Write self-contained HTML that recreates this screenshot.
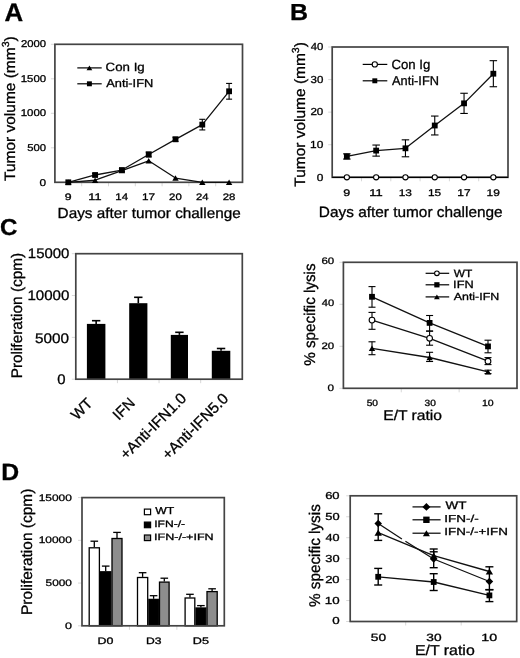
<!DOCTYPE html>
<html><head><meta charset="utf-8"><style>
html,body{margin:0;padding:0;background:#fff;}
svg{display:block;will-change:transform;}
</style></head><body>
<svg width="520" height="658" viewBox="0 0 520 658" text-rendering="geometricPrecision">
<rect width="520" height="658" fill="#fff"/>
<text x="4.45" y="21.25" font-size="25.31" textLength="18.65" lengthAdjust="spacingAndGlyphs" font-family="&apos;Liberation Sans&apos;, sans-serif" stroke="#000" stroke-width="0.3" font-weight="bold" fill="#000">A</text>
<line x1="50.90" y1="147.80" x2="54.90" y2="147.80" stroke="#d8d8d8" stroke-width="1"/>
<line x1="50.90" y1="113.30" x2="54.90" y2="113.30" stroke="#d8d8d8" stroke-width="1"/>
<line x1="50.90" y1="78.80" x2="54.90" y2="78.80" stroke="#d8d8d8" stroke-width="1"/>
<line x1="50.90" y1="44.30" x2="54.90" y2="44.30" stroke="#d8d8d8" stroke-width="1"/>
<line x1="81.70" y1="182.30" x2="81.70" y2="186.30" stroke="#d8d8d8" stroke-width="1"/>
<line x1="108.50" y1="182.30" x2="108.50" y2="186.30" stroke="#d8d8d8" stroke-width="1"/>
<line x1="135.30" y1="182.30" x2="135.30" y2="186.30" stroke="#d8d8d8" stroke-width="1"/>
<line x1="162.10" y1="182.30" x2="162.10" y2="186.30" stroke="#d8d8d8" stroke-width="1"/>
<line x1="188.90" y1="182.30" x2="188.90" y2="186.30" stroke="#d8d8d8" stroke-width="1"/>
<line x1="215.70" y1="182.30" x2="215.70" y2="186.30" stroke="#d8d8d8" stroke-width="1"/>
<rect x="54.90" y="44.30" width="187.60" height="138.00" fill="none" stroke="#444" stroke-width="1.7"/>
<text x="21.04" y="46.90" font-size="9.89" textLength="25.11" lengthAdjust="spacingAndGlyphs" font-family="&apos;Liberation Sans&apos;, sans-serif" stroke="#000" stroke-width="0.3" fill="#000">2000</text>
<text x="20.74" y="81.55" font-size="9.89" textLength="25.41" lengthAdjust="spacingAndGlyphs" font-family="&apos;Liberation Sans&apos;, sans-serif" stroke="#000" stroke-width="0.3" fill="#000">1500</text>
<text x="20.74" y="116.20" font-size="9.89" textLength="25.41" lengthAdjust="spacingAndGlyphs" font-family="&apos;Liberation Sans&apos;, sans-serif" stroke="#000" stroke-width="0.3" fill="#000">1000</text>
<text x="27.30" y="150.85" font-size="9.89" textLength="18.84" lengthAdjust="spacingAndGlyphs" font-family="&apos;Liberation Sans&apos;, sans-serif" stroke="#000" stroke-width="0.3" fill="#000">500</text>
<text x="39.58" y="185.50" font-size="9.89" textLength="6.58" lengthAdjust="spacingAndGlyphs" font-family="&apos;Liberation Sans&apos;, sans-serif" stroke="#000" stroke-width="0.3" fill="#000">0</text>
<text x="64.86" y="200.40" font-size="9.32" textLength="6.85" lengthAdjust="spacingAndGlyphs" font-family="&apos;Liberation Sans&apos;, sans-serif" stroke="#000" stroke-width="0.3" fill="#000">9</text>
<text x="88.35" y="200.40" font-size="9.45" textLength="13.16" lengthAdjust="spacingAndGlyphs" font-family="&apos;Liberation Sans&apos;, sans-serif" stroke="#000" stroke-width="0.3" fill="#000">11</text>
<text x="115.24" y="200.40" font-size="9.45" textLength="12.81" lengthAdjust="spacingAndGlyphs" font-family="&apos;Liberation Sans&apos;, sans-serif" stroke="#000" stroke-width="0.3" fill="#000">14</text>
<text x="142.02" y="200.40" font-size="9.45" textLength="13.10" lengthAdjust="spacingAndGlyphs" font-family="&apos;Liberation Sans&apos;, sans-serif" stroke="#000" stroke-width="0.3" fill="#000">17</text>
<text x="169.13" y="200.40" font-size="9.32" textLength="12.62" lengthAdjust="spacingAndGlyphs" font-family="&apos;Liberation Sans&apos;, sans-serif" stroke="#000" stroke-width="0.3" fill="#000">20</text>
<text x="195.94" y="200.40" font-size="9.32" textLength="12.50" lengthAdjust="spacingAndGlyphs" font-family="&apos;Liberation Sans&apos;, sans-serif" stroke="#000" stroke-width="0.3" fill="#000">24</text>
<text x="222.73" y="200.40" font-size="9.32" textLength="12.68" lengthAdjust="spacingAndGlyphs" font-family="&apos;Liberation Sans&apos;, sans-serif" stroke="#000" stroke-width="0.3" fill="#000">28</text>
<text x="57.64" y="218.30" font-size="14.62" textLength="183.12" lengthAdjust="spacingAndGlyphs" font-family="&apos;Liberation Sans&apos;, sans-serif" stroke="#000" stroke-width="0.3" fill="#000">Days after tumor challenge</text>
<text transform="translate(14.60,180.95) rotate(-90)" x="0" y="0" font-size="15.03" textLength="144.62" lengthAdjust="spacingAndGlyphs" font-family="&apos;Liberation Sans&apos;, sans-serif" stroke="#000" stroke-width="0.3" fill="#000">Tumor volume (mm<tspan font-size="10.22" dy="-5.41">3</tspan><tspan dy="5.41">)</tspan></text>
<polyline points="68.30,182.30 95.10,180.23 121.90,170.57 148.70,160.77 175.50,178.02 202.30,182.30 229.10,182.30" fill="none" stroke="#111" stroke-width="1.3" stroke-linejoin="round"/>
<polyline points="68.30,182.30 95.10,174.99 121.90,170.02 148.70,154.49 175.50,139.31 202.30,124.62 229.10,91.29" fill="none" stroke="#111" stroke-width="1.3" stroke-linejoin="round"/>
<line x1="95.10" y1="173.61" x2="95.10" y2="176.37" stroke="#000" stroke-width="1.1"/>
<line x1="92.10" y1="173.61" x2="98.10" y2="173.61" stroke="#000" stroke-width="1.1"/>
<line x1="92.10" y1="176.37" x2="98.10" y2="176.37" stroke="#000" stroke-width="1.1"/>
<line x1="121.90" y1="168.64" x2="121.90" y2="171.40" stroke="#000" stroke-width="1.1"/>
<line x1="118.90" y1="168.64" x2="124.90" y2="168.64" stroke="#000" stroke-width="1.1"/>
<line x1="118.90" y1="171.40" x2="124.90" y2="171.40" stroke="#000" stroke-width="1.1"/>
<line x1="148.70" y1="152.08" x2="148.70" y2="156.91" stroke="#000" stroke-width="1.1"/>
<line x1="145.70" y1="152.08" x2="151.70" y2="152.08" stroke="#000" stroke-width="1.1"/>
<line x1="145.70" y1="156.91" x2="151.70" y2="156.91" stroke="#000" stroke-width="1.1"/>
<line x1="175.50" y1="137.24" x2="175.50" y2="141.38" stroke="#000" stroke-width="1.1"/>
<line x1="172.50" y1="137.24" x2="178.50" y2="137.24" stroke="#000" stroke-width="1.1"/>
<line x1="172.50" y1="141.38" x2="178.50" y2="141.38" stroke="#000" stroke-width="1.1"/>
<line x1="202.30" y1="119.30" x2="202.30" y2="129.93" stroke="#000" stroke-width="1.1"/>
<line x1="199.30" y1="119.30" x2="205.30" y2="119.30" stroke="#000" stroke-width="1.1"/>
<line x1="199.30" y1="129.93" x2="205.30" y2="129.93" stroke="#000" stroke-width="1.1"/>
<line x1="229.10" y1="83.42" x2="229.10" y2="99.16" stroke="#000" stroke-width="1.1"/>
<line x1="226.10" y1="83.42" x2="232.10" y2="83.42" stroke="#000" stroke-width="1.1"/>
<line x1="226.10" y1="99.16" x2="232.10" y2="99.16" stroke="#000" stroke-width="1.1"/>
<polygon points="65.10,185.00 71.50,185.00 68.30,179.60" fill="#000"/>
<polygon points="91.90,182.93 98.30,182.93 95.10,177.53" fill="#000"/>
<polygon points="118.70,173.27 125.10,173.27 121.90,167.87" fill="#000"/>
<polygon points="145.50,163.47 151.90,163.47 148.70,158.07" fill="#000"/>
<polygon points="172.30,180.72 178.70,180.72 175.50,175.32" fill="#000"/>
<polygon points="199.10,185.00 205.50,185.00 202.30,179.60" fill="#000"/>
<polygon points="225.90,185.00 232.30,185.00 229.10,179.60" fill="#000"/>
<rect x="65.40" y="179.40" width="5.80" height="5.80" fill="#000"/>
<rect x="92.20" y="172.09" width="5.80" height="5.80" fill="#000"/>
<rect x="119.00" y="167.12" width="5.80" height="5.80" fill="#000"/>
<rect x="145.80" y="151.59" width="5.80" height="5.80" fill="#000"/>
<rect x="172.60" y="136.41" width="5.80" height="5.80" fill="#000"/>
<rect x="199.40" y="121.72" width="5.80" height="5.80" fill="#000"/>
<rect x="226.20" y="88.39" width="5.80" height="5.80" fill="#000"/>
<line x1="77.30" y1="67.90" x2="101.70" y2="67.90" stroke="#000" stroke-width="1.2"/>
<polygon points="86.52,70.33 92.28,70.33 89.40,65.47" fill="#000"/>
<line x1="77.30" y1="83.80" x2="101.70" y2="83.80" stroke="#000" stroke-width="1.2"/>
<rect x="86.94" y="81.33" width="4.93" height="4.93" fill="#000"/>
<text x="105.64" y="70.90" font-size="11.90" textLength="39.11" lengthAdjust="spacingAndGlyphs" font-family="&apos;Liberation Sans&apos;, sans-serif" stroke="#000" stroke-width="0.3" fill="#000">Con Ig</text>
<text x="106.27" y="86.90" font-size="11.31" textLength="46.98" lengthAdjust="spacingAndGlyphs" font-family="&apos;Liberation Sans&apos;, sans-serif" stroke="#000" stroke-width="0.3" fill="#000">Anti-IFN</text>
<text x="290.12" y="20.20" font-size="23.13" textLength="18.00" lengthAdjust="spacingAndGlyphs" font-family="&apos;Liberation Sans&apos;, sans-serif" stroke="#000" stroke-width="0.3" font-weight="bold" fill="#000">B</text>
<line x1="328.20" y1="144.73" x2="332.20" y2="144.73" stroke="#d8d8d8" stroke-width="1"/>
<line x1="328.20" y1="112.15" x2="332.20" y2="112.15" stroke="#d8d8d8" stroke-width="1"/>
<line x1="328.20" y1="79.58" x2="332.20" y2="79.58" stroke="#d8d8d8" stroke-width="1"/>
<line x1="328.20" y1="47.00" x2="332.20" y2="47.00" stroke="#d8d8d8" stroke-width="1"/>
<line x1="361.50" y1="177.30" x2="361.50" y2="181.30" stroke="#d8d8d8" stroke-width="1"/>
<line x1="390.80" y1="177.30" x2="390.80" y2="181.30" stroke="#d8d8d8" stroke-width="1"/>
<line x1="420.10" y1="177.30" x2="420.10" y2="181.30" stroke="#d8d8d8" stroke-width="1"/>
<line x1="449.40" y1="177.30" x2="449.40" y2="181.30" stroke="#d8d8d8" stroke-width="1"/>
<line x1="478.70" y1="177.30" x2="478.70" y2="181.30" stroke="#d8d8d8" stroke-width="1"/>
<rect x="332.20" y="47.00" width="175.80" height="130.30" fill="none" stroke="#444" stroke-width="1.7"/>
<text x="310.75" y="49.80" font-size="10.18" textLength="12.61" lengthAdjust="spacingAndGlyphs" font-family="&apos;Liberation Sans&apos;, sans-serif" stroke="#000" stroke-width="0.3" fill="#000">40</text>
<text x="310.57" y="82.50" font-size="10.18" textLength="12.79" lengthAdjust="spacingAndGlyphs" font-family="&apos;Liberation Sans&apos;, sans-serif" stroke="#000" stroke-width="0.3" fill="#000">30</text>
<text x="310.42" y="115.20" font-size="10.18" textLength="12.95" lengthAdjust="spacingAndGlyphs" font-family="&apos;Liberation Sans&apos;, sans-serif" stroke="#000" stroke-width="0.3" fill="#000">20</text>
<text x="310.11" y="147.90" font-size="10.18" textLength="13.27" lengthAdjust="spacingAndGlyphs" font-family="&apos;Liberation Sans&apos;, sans-serif" stroke="#000" stroke-width="0.3" fill="#000">10</text>
<text x="316.72" y="180.60" font-size="10.18" textLength="6.64" lengthAdjust="spacingAndGlyphs" font-family="&apos;Liberation Sans&apos;, sans-serif" stroke="#000" stroke-width="0.3" fill="#000">0</text>
<text x="343.35" y="196.20" font-size="9.61" textLength="6.97" lengthAdjust="spacingAndGlyphs" font-family="&apos;Liberation Sans&apos;, sans-serif" stroke="#000" stroke-width="0.3" fill="#000">9</text>
<text x="369.28" y="196.20" font-size="9.75" textLength="13.39" lengthAdjust="spacingAndGlyphs" font-family="&apos;Liberation Sans&apos;, sans-serif" stroke="#000" stroke-width="0.3" fill="#000">11</text>
<text x="398.66" y="196.20" font-size="9.61" textLength="13.22" lengthAdjust="spacingAndGlyphs" font-family="&apos;Liberation Sans&apos;, sans-serif" stroke="#000" stroke-width="0.3" fill="#000">13</text>
<text x="427.96" y="196.20" font-size="9.75" textLength="13.19" lengthAdjust="spacingAndGlyphs" font-family="&apos;Liberation Sans&apos;, sans-serif" stroke="#000" stroke-width="0.3" fill="#000">15</text>
<text x="457.25" y="196.20" font-size="9.75" textLength="13.33" lengthAdjust="spacingAndGlyphs" font-family="&apos;Liberation Sans&apos;, sans-serif" stroke="#000" stroke-width="0.3" fill="#000">17</text>
<text x="486.56" y="196.20" font-size="9.61" textLength="13.26" lengthAdjust="spacingAndGlyphs" font-family="&apos;Liberation Sans&apos;, sans-serif" stroke="#000" stroke-width="0.3" fill="#000">19</text>
<text x="318.83" y="216.90" font-size="14.90" textLength="183.83" lengthAdjust="spacingAndGlyphs" font-family="&apos;Liberation Sans&apos;, sans-serif" stroke="#000" stroke-width="0.3" fill="#000">Days after tumor challenge</text>
<text transform="translate(304.90,186.75) rotate(-90)" x="0" y="0" font-size="15.03" textLength="144.62" lengthAdjust="spacingAndGlyphs" font-family="&apos;Liberation Sans&apos;, sans-serif" stroke="#000" stroke-width="0.3" fill="#000">Tumor volume (mm<tspan font-size="10.22" dy="-5.41">3</tspan><tspan dy="5.41">)</tspan></text>
<polyline points="346.85,156.45 376.15,150.59 405.45,148.31 434.75,125.51 464.05,103.35 493.35,73.71" fill="none" stroke="#111" stroke-width="1.3" stroke-linejoin="round"/>
<line x1="332.20" y1="177.30" x2="508.00" y2="177.30" stroke="#000" stroke-width="1.2"/>
<line x1="346.85" y1="153.85" x2="346.85" y2="159.06" stroke="#000" stroke-width="1.1"/>
<line x1="343.10" y1="153.85" x2="350.60" y2="153.85" stroke="#000" stroke-width="1.1"/>
<line x1="343.10" y1="159.06" x2="350.60" y2="159.06" stroke="#000" stroke-width="1.1"/>
<line x1="376.15" y1="145.05" x2="376.15" y2="156.13" stroke="#000" stroke-width="1.1"/>
<line x1="372.40" y1="145.05" x2="379.90" y2="145.05" stroke="#000" stroke-width="1.1"/>
<line x1="372.40" y1="156.13" x2="379.90" y2="156.13" stroke="#000" stroke-width="1.1"/>
<line x1="405.45" y1="139.84" x2="405.45" y2="156.78" stroke="#000" stroke-width="1.1"/>
<line x1="401.70" y1="139.84" x2="409.20" y2="139.84" stroke="#000" stroke-width="1.1"/>
<line x1="401.70" y1="156.78" x2="409.20" y2="156.78" stroke="#000" stroke-width="1.1"/>
<line x1="434.75" y1="116.06" x2="434.75" y2="134.95" stroke="#000" stroke-width="1.1"/>
<line x1="431.00" y1="116.06" x2="438.50" y2="116.06" stroke="#000" stroke-width="1.1"/>
<line x1="431.00" y1="134.95" x2="438.50" y2="134.95" stroke="#000" stroke-width="1.1"/>
<line x1="464.05" y1="93.26" x2="464.05" y2="113.45" stroke="#000" stroke-width="1.1"/>
<line x1="460.30" y1="93.26" x2="467.80" y2="93.26" stroke="#000" stroke-width="1.1"/>
<line x1="460.30" y1="113.45" x2="467.80" y2="113.45" stroke="#000" stroke-width="1.1"/>
<line x1="493.35" y1="60.68" x2="493.35" y2="86.74" stroke="#000" stroke-width="1.1"/>
<line x1="489.60" y1="60.68" x2="497.10" y2="60.68" stroke="#000" stroke-width="1.1"/>
<line x1="489.60" y1="86.74" x2="497.10" y2="86.74" stroke="#000" stroke-width="1.1"/>
<circle cx="346.85" cy="177.30" r="2.60" fill="#fff" stroke="#000" stroke-width="1.1"/>
<circle cx="376.15" cy="177.30" r="2.60" fill="#fff" stroke="#000" stroke-width="1.1"/>
<circle cx="405.45" cy="177.30" r="2.60" fill="#fff" stroke="#000" stroke-width="1.1"/>
<circle cx="434.75" cy="177.30" r="2.60" fill="#fff" stroke="#000" stroke-width="1.1"/>
<circle cx="464.05" cy="177.30" r="2.60" fill="#fff" stroke="#000" stroke-width="1.1"/>
<circle cx="493.35" cy="177.30" r="2.60" fill="#fff" stroke="#000" stroke-width="1.1"/>
<rect x="343.95" y="153.55" width="5.80" height="5.80" fill="#000"/>
<rect x="373.25" y="147.69" width="5.80" height="5.80" fill="#000"/>
<rect x="402.55" y="145.41" width="5.80" height="5.80" fill="#000"/>
<rect x="431.85" y="122.61" width="5.80" height="5.80" fill="#000"/>
<rect x="461.15" y="100.45" width="5.80" height="5.80" fill="#000"/>
<rect x="490.45" y="70.81" width="5.80" height="5.80" fill="#000"/>
<line x1="362.70" y1="64.40" x2="387.30" y2="64.40" stroke="#000" stroke-width="1.2"/>
<circle cx="374.80" cy="64.40" r="2.60" fill="#fff" stroke="#000" stroke-width="1.1"/>
<line x1="362.70" y1="80.80" x2="387.30" y2="80.80" stroke="#000" stroke-width="1.2"/>
<rect x="372.34" y="78.33" width="4.93" height="4.93" fill="#000"/>
<text x="391.44" y="68.60" font-size="13.33" textLength="38.90" lengthAdjust="spacingAndGlyphs" font-family="&apos;Liberation Sans&apos;, sans-serif" stroke="#000" stroke-width="0.3" fill="#000">Con Ig</text>
<text x="392.07" y="84.80" font-size="12.83" textLength="46.88" lengthAdjust="spacingAndGlyphs" font-family="&apos;Liberation Sans&apos;, sans-serif" stroke="#000" stroke-width="0.3" fill="#000">Anti-IFN</text>
<text x="0.14" y="235.40" font-size="22.94" textLength="17.42" lengthAdjust="spacingAndGlyphs" font-family="&apos;Liberation Sans&apos;, sans-serif" stroke="#000" stroke-width="0.3" font-weight="bold" fill="#000">C</text>
<line x1="71.80" y1="253.70" x2="75.80" y2="253.70" stroke="#d8d8d8" stroke-width="1"/>
<line x1="71.80" y1="295.53" x2="75.80" y2="295.53" stroke="#d8d8d8" stroke-width="1"/>
<line x1="71.80" y1="337.37" x2="75.80" y2="337.37" stroke="#d8d8d8" stroke-width="1"/>
<line x1="71.80" y1="379.20" x2="75.80" y2="379.20" stroke="#d8d8d8" stroke-width="1"/>
<line x1="117.42" y1="379.20" x2="117.42" y2="383.20" stroke="#d8d8d8" stroke-width="1"/>
<line x1="159.05" y1="379.20" x2="159.05" y2="383.20" stroke="#d8d8d8" stroke-width="1"/>
<line x1="200.68" y1="379.20" x2="200.68" y2="383.20" stroke="#d8d8d8" stroke-width="1"/>
<text x="27.88" y="258.40" font-size="13.91" textLength="41.49" lengthAdjust="spacingAndGlyphs" font-family="&apos;Liberation Sans&apos;, sans-serif" stroke="#000" stroke-width="0.3" fill="#000">15000</text>
<text x="27.47" y="300.40" font-size="13.91" textLength="41.91" lengthAdjust="spacingAndGlyphs" font-family="&apos;Liberation Sans&apos;, sans-serif" stroke="#000" stroke-width="0.3" fill="#000">10000</text>
<text x="34.99" y="342.80" font-size="13.91" textLength="34.02" lengthAdjust="spacingAndGlyphs" font-family="&apos;Liberation Sans&apos;, sans-serif" stroke="#000" stroke-width="0.3" fill="#000">5000</text>
<text x="57.21" y="384.10" font-size="13.91" textLength="8.27" lengthAdjust="spacingAndGlyphs" font-family="&apos;Liberation Sans&apos;, sans-serif" stroke="#000" stroke-width="0.3" fill="#000">0</text>
<rect x="86.90" y="323.90" width="18.50" height="55.30" fill="#000"/>
<line x1="96.15" y1="320.70" x2="96.15" y2="323.90" stroke="#000" stroke-width="1.6"/>
<line x1="91.95" y1="320.70" x2="100.35" y2="320.70" stroke="#000" stroke-width="1.6"/>
<rect x="129.20" y="303.20" width="18.20" height="76.00" fill="#000"/>
<line x1="138.30" y1="297.30" x2="138.30" y2="303.20" stroke="#000" stroke-width="1.6"/>
<line x1="134.10" y1="297.30" x2="142.50" y2="297.30" stroke="#000" stroke-width="1.6"/>
<rect x="170.80" y="334.90" width="17.20" height="44.30" fill="#000"/>
<line x1="179.40" y1="332.30" x2="179.40" y2="334.90" stroke="#000" stroke-width="1.6"/>
<line x1="175.20" y1="332.30" x2="183.60" y2="332.30" stroke="#000" stroke-width="1.6"/>
<rect x="211.80" y="350.80" width="18.50" height="28.40" fill="#000"/>
<line x1="221.05" y1="348.50" x2="221.05" y2="350.80" stroke="#000" stroke-width="1.6"/>
<line x1="216.85" y1="348.50" x2="225.25" y2="348.50" stroke="#000" stroke-width="1.6"/>
<rect x="75.80" y="253.70" width="166.50" height="125.50" fill="none" stroke="#444" stroke-width="1.7"/>
<text transform="translate(22.00,378.37) rotate(-90)" x="0" y="0" font-size="15.30" textLength="125.55" lengthAdjust="spacingAndGlyphs" font-family="&apos;Liberation Sans&apos;, sans-serif" stroke="#000" stroke-width="0.3" fill="#000">Proliferation (cpm)</text>
<text transform="translate(93.40,404.20) rotate(-45)" x="0" y="0" font-size="15.00" text-anchor="end" textLength="23.32" lengthAdjust="spacingAndGlyphs" font-family="&apos;Liberation Sans&apos;, sans-serif" stroke="#000" stroke-width="0.3" fill="#000">WT</text>
<text transform="translate(135.90,403.90) rotate(-45)" x="0" y="0" font-size="15.00" text-anchor="end" textLength="24.16" lengthAdjust="spacingAndGlyphs" font-family="&apos;Liberation Sans&apos;, sans-serif" stroke="#000" stroke-width="0.3" fill="#000">IFN</text>
<text transform="translate(187.30,399.30) rotate(-45)" x="0" y="0" font-size="15.30" text-anchor="end" textLength="86.31" lengthAdjust="spacingAndGlyphs" font-family="&apos;Liberation Sans&apos;, sans-serif" stroke="#000" stroke-width="0.3" fill="#000">+Anti-IFN1.0</text>
<text transform="translate(229.30,399.50) rotate(-45)" x="0" y="0" font-size="15.30" text-anchor="end" textLength="86.31" lengthAdjust="spacingAndGlyphs" font-family="&apos;Liberation Sans&apos;, sans-serif" stroke="#000" stroke-width="0.3" fill="#000">+Anti-IFN5.0</text>
<line x1="339.40" y1="262.30" x2="343.40" y2="262.30" stroke="#d8d8d8" stroke-width="1"/>
<line x1="339.40" y1="304.30" x2="343.40" y2="304.30" stroke="#d8d8d8" stroke-width="1"/>
<line x1="339.40" y1="346.30" x2="343.40" y2="346.30" stroke="#d8d8d8" stroke-width="1"/>
<line x1="339.40" y1="388.30" x2="343.40" y2="388.30" stroke="#d8d8d8" stroke-width="1"/>
<line x1="401.27" y1="388.30" x2="401.27" y2="392.30" stroke="#d8d8d8" stroke-width="1"/>
<line x1="459.13" y1="388.30" x2="459.13" y2="392.30" stroke="#d8d8d8" stroke-width="1"/>
<rect x="343.40" y="262.30" width="173.60" height="126.00" fill="none" stroke="#444" stroke-width="1.7"/>
<text x="321.43" y="263.85" font-size="9.46" textLength="12.73" lengthAdjust="spacingAndGlyphs" font-family="&apos;Liberation Sans&apos;, sans-serif" stroke="#000" stroke-width="0.3" fill="#000">60</text>
<text x="321.75" y="306.25" font-size="9.46" textLength="12.39" lengthAdjust="spacingAndGlyphs" font-family="&apos;Liberation Sans&apos;, sans-serif" stroke="#000" stroke-width="0.3" fill="#000">40</text>
<text x="321.43" y="348.65" font-size="9.46" textLength="12.73" lengthAdjust="spacingAndGlyphs" font-family="&apos;Liberation Sans&apos;, sans-serif" stroke="#000" stroke-width="0.3" fill="#000">20</text>
<text x="327.63" y="391.05" font-size="9.46" textLength="6.52" lengthAdjust="spacingAndGlyphs" font-family="&apos;Liberation Sans&apos;, sans-serif" stroke="#000" stroke-width="0.3" fill="#000">0</text>
<text x="366.68" y="406.30" font-size="9.03" textLength="11.31" lengthAdjust="spacingAndGlyphs" font-family="&apos;Liberation Sans&apos;, sans-serif" stroke="#000" stroke-width="0.3" fill="#000">50</text>
<text x="424.57" y="406.30" font-size="9.03" textLength="11.28" lengthAdjust="spacingAndGlyphs" font-family="&apos;Liberation Sans&apos;, sans-serif" stroke="#000" stroke-width="0.3" fill="#000">30</text>
<text x="482.03" y="406.30" font-size="9.03" textLength="11.71" lengthAdjust="spacingAndGlyphs" font-family="&apos;Liberation Sans&apos;, sans-serif" stroke="#000" stroke-width="0.3" fill="#000">10</text>
<text x="383.21" y="420.10" font-size="14.07" textLength="58.83" lengthAdjust="spacingAndGlyphs" font-family="&apos;Liberation Sans&apos;, sans-serif" stroke="#000" stroke-width="0.3" fill="#000">E/T ratio</text>
<text transform="translate(315.30,365.83) rotate(-90)" x="0" y="0" font-size="15.50" textLength="102.45" lengthAdjust="spacingAndGlyphs" font-family="&apos;Liberation Sans&apos;, sans-serif" stroke="#000" stroke-width="0.3" fill="#000">% specific lysis</text>
<polyline points="372.00,296.80 429.60,322.90 488.00,346.40" fill="none" stroke="#111" stroke-width="1.3" stroke-linejoin="round"/>
<polyline points="372.00,320.10 429.60,338.30 488.00,361.20" fill="none" stroke="#111" stroke-width="1.3" stroke-linejoin="round"/>
<polyline points="372.00,348.30 429.60,357.50 488.00,371.90" fill="none" stroke="#111" stroke-width="1.3" stroke-linejoin="round"/>
<line x1="372.00" y1="286.60" x2="372.00" y2="307.20" stroke="#000" stroke-width="1.1"/>
<line x1="368.50" y1="286.60" x2="375.50" y2="286.60" stroke="#000" stroke-width="1.1"/>
<line x1="368.50" y1="307.20" x2="375.50" y2="307.20" stroke="#000" stroke-width="1.1"/>
<line x1="429.60" y1="315.50" x2="429.60" y2="331.00" stroke="#000" stroke-width="1.1"/>
<line x1="426.10" y1="315.50" x2="433.10" y2="315.50" stroke="#000" stroke-width="1.1"/>
<line x1="426.10" y1="331.00" x2="433.10" y2="331.00" stroke="#000" stroke-width="1.1"/>
<line x1="488.00" y1="340.20" x2="488.00" y2="352.80" stroke="#000" stroke-width="1.1"/>
<line x1="484.50" y1="340.20" x2="491.50" y2="340.20" stroke="#000" stroke-width="1.1"/>
<line x1="484.50" y1="352.80" x2="491.50" y2="352.80" stroke="#000" stroke-width="1.1"/>
<line x1="372.00" y1="312.40" x2="372.00" y2="329.30" stroke="#000" stroke-width="1.1"/>
<line x1="368.50" y1="312.40" x2="375.50" y2="312.40" stroke="#000" stroke-width="1.1"/>
<line x1="368.50" y1="329.30" x2="375.50" y2="329.30" stroke="#000" stroke-width="1.1"/>
<line x1="429.60" y1="331.20" x2="429.60" y2="345.20" stroke="#000" stroke-width="1.1"/>
<line x1="426.10" y1="331.20" x2="433.10" y2="331.20" stroke="#000" stroke-width="1.1"/>
<line x1="426.10" y1="345.20" x2="433.10" y2="345.20" stroke="#000" stroke-width="1.1"/>
<line x1="488.00" y1="357.60" x2="488.00" y2="364.60" stroke="#000" stroke-width="1.1"/>
<line x1="484.50" y1="357.60" x2="491.50" y2="357.60" stroke="#000" stroke-width="1.1"/>
<line x1="484.50" y1="364.60" x2="491.50" y2="364.60" stroke="#000" stroke-width="1.1"/>
<line x1="372.00" y1="341.80" x2="372.00" y2="354.70" stroke="#000" stroke-width="1.1"/>
<line x1="368.50" y1="341.80" x2="375.50" y2="341.80" stroke="#000" stroke-width="1.1"/>
<line x1="368.50" y1="354.70" x2="375.50" y2="354.70" stroke="#000" stroke-width="1.1"/>
<line x1="429.60" y1="352.30" x2="429.60" y2="361.50" stroke="#000" stroke-width="1.1"/>
<line x1="426.10" y1="352.30" x2="433.10" y2="352.30" stroke="#000" stroke-width="1.1"/>
<line x1="426.10" y1="361.50" x2="433.10" y2="361.50" stroke="#000" stroke-width="1.1"/>
<line x1="488.00" y1="370.20" x2="488.00" y2="373.60" stroke="#000" stroke-width="1.1"/>
<line x1="484.50" y1="370.20" x2="491.50" y2="370.20" stroke="#000" stroke-width="1.1"/>
<line x1="484.50" y1="373.60" x2="491.50" y2="373.60" stroke="#000" stroke-width="1.1"/>
<rect x="369.10" y="293.90" width="5.80" height="5.80" fill="#000"/>
<rect x="426.70" y="320.00" width="5.80" height="5.80" fill="#000"/>
<rect x="485.10" y="343.50" width="5.80" height="5.80" fill="#000"/>
<circle cx="372.00" cy="320.10" r="2.86" fill="#fff" stroke="#000" stroke-width="1.1"/>
<circle cx="429.60" cy="338.30" r="2.86" fill="#fff" stroke="#000" stroke-width="1.1"/>
<circle cx="488.00" cy="361.20" r="2.86" fill="#fff" stroke="#000" stroke-width="1.1"/>
<polygon points="368.80,351.00 375.20,351.00 372.00,345.60" fill="#000"/>
<polygon points="426.40,360.20 432.80,360.20 429.60,354.80" fill="#000"/>
<polygon points="484.80,374.60 491.20,374.60 488.00,369.20" fill="#000"/>
<line x1="425.60" y1="273.30" x2="449.20" y2="273.30" stroke="#000" stroke-width="1.2"/>
<circle cx="436.90" cy="273.30" r="2.34" fill="#fff" stroke="#000" stroke-width="1.1"/>
<line x1="425.60" y1="284.80" x2="449.20" y2="284.80" stroke="#000" stroke-width="1.2"/>
<rect x="434.29" y="282.19" width="5.22" height="5.22" fill="#000"/>
<line x1="425.60" y1="296.90" x2="449.20" y2="296.90" stroke="#000" stroke-width="1.2"/>
<polygon points="434.02,299.33 439.78,299.33 436.90,294.47" fill="#000"/>
<text x="453.74" y="276.60" font-size="10.62" textLength="18.52" lengthAdjust="spacingAndGlyphs" font-family="&apos;Liberation Sans&apos;, sans-serif" stroke="#000" stroke-width="0.3" fill="#000">WT</text>
<text x="453.12" y="288.10" font-size="10.62" textLength="20.54" lengthAdjust="spacingAndGlyphs" font-family="&apos;Liberation Sans&apos;, sans-serif" stroke="#000" stroke-width="0.3" fill="#000">IFN</text>
<text x="453.77" y="300.40" font-size="10.21" textLength="45.45" lengthAdjust="spacingAndGlyphs" font-family="&apos;Liberation Sans&apos;, sans-serif" stroke="#000" stroke-width="0.3" fill="#000">Anti-IFN</text>
<text x="1.32" y="480.00" font-size="23.56" textLength="17.92" lengthAdjust="spacingAndGlyphs" font-family="&apos;Liberation Sans&apos;, sans-serif" stroke="#000" stroke-width="0.3" font-weight="bold" fill="#000">D</text>
<line x1="78.00" y1="497.60" x2="82.00" y2="497.60" stroke="#d8d8d8" stroke-width="1"/>
<line x1="78.00" y1="540.33" x2="82.00" y2="540.33" stroke="#d8d8d8" stroke-width="1"/>
<line x1="78.00" y1="583.07" x2="82.00" y2="583.07" stroke="#d8d8d8" stroke-width="1"/>
<line x1="78.00" y1="625.80" x2="82.00" y2="625.80" stroke="#d8d8d8" stroke-width="1"/>
<line x1="129.43" y1="625.80" x2="129.43" y2="629.80" stroke="#d8d8d8" stroke-width="1"/>
<line x1="176.87" y1="625.80" x2="176.87" y2="629.80" stroke="#d8d8d8" stroke-width="1"/>
<text x="38.76" y="500.55" font-size="9.46" textLength="33.10" lengthAdjust="spacingAndGlyphs" font-family="&apos;Liberation Sans&apos;, sans-serif" stroke="#000" stroke-width="0.3" fill="#000">15000</text>
<text x="38.76" y="543.30" font-size="9.46" textLength="33.10" lengthAdjust="spacingAndGlyphs" font-family="&apos;Liberation Sans&apos;, sans-serif" stroke="#000" stroke-width="0.3" fill="#000">10000</text>
<text x="45.63" y="586.05" font-size="9.46" textLength="26.24" lengthAdjust="spacingAndGlyphs" font-family="&apos;Liberation Sans&apos;, sans-serif" stroke="#000" stroke-width="0.3" fill="#000">5000</text>
<text x="64.95" y="628.80" font-size="9.46" textLength="6.93" lengthAdjust="spacingAndGlyphs" font-family="&apos;Liberation Sans&apos;, sans-serif" stroke="#000" stroke-width="0.3" fill="#000">0</text>
<line x1="94.30" y1="541.20" x2="94.30" y2="547.20" stroke="#000" stroke-width="1.3"/>
<line x1="90.50" y1="541.20" x2="98.10" y2="541.20" stroke="#000" stroke-width="1.3"/>
<rect x="89.20" y="547.80" width="10.20" height="78.00" fill="#fff" stroke="#000" stroke-width="1.3"/>
<line x1="105.70" y1="566.10" x2="105.70" y2="571.20" stroke="#000" stroke-width="1.3"/>
<line x1="101.90" y1="566.10" x2="109.50" y2="566.10" stroke="#000" stroke-width="1.3"/>
<rect x="100.60" y="571.80" width="10.20" height="54.00" fill="#000" stroke="#000" stroke-width="1.3"/>
<line x1="117.00" y1="532.40" x2="117.00" y2="537.90" stroke="#000" stroke-width="1.3"/>
<line x1="113.20" y1="532.40" x2="120.80" y2="532.40" stroke="#000" stroke-width="1.3"/>
<rect x="112.00" y="538.50" width="10.00" height="87.30" fill="#8d8d8d" stroke="#000" stroke-width="1.3"/>
<line x1="142.60" y1="572.70" x2="142.60" y2="576.90" stroke="#000" stroke-width="1.3"/>
<line x1="138.80" y1="572.70" x2="146.40" y2="572.70" stroke="#000" stroke-width="1.3"/>
<rect x="137.50" y="577.50" width="10.20" height="48.30" fill="#fff" stroke="#000" stroke-width="1.3"/>
<line x1="153.60" y1="595.70" x2="153.60" y2="598.80" stroke="#000" stroke-width="1.3"/>
<line x1="149.80" y1="595.70" x2="157.40" y2="595.70" stroke="#000" stroke-width="1.3"/>
<rect x="148.90" y="599.40" width="9.40" height="26.40" fill="#000" stroke="#000" stroke-width="1.3"/>
<line x1="164.30" y1="578.20" x2="164.30" y2="581.50" stroke="#000" stroke-width="1.3"/>
<line x1="160.50" y1="578.20" x2="168.10" y2="578.20" stroke="#000" stroke-width="1.3"/>
<rect x="159.50" y="582.10" width="9.60" height="43.70" fill="#8d8d8d" stroke="#000" stroke-width="1.3"/>
<line x1="189.95" y1="594.30" x2="189.95" y2="597.40" stroke="#000" stroke-width="1.3"/>
<line x1="186.15" y1="594.30" x2="193.75" y2="594.30" stroke="#000" stroke-width="1.3"/>
<rect x="185.10" y="598.00" width="9.70" height="27.80" fill="#fff" stroke="#000" stroke-width="1.3"/>
<line x1="200.90" y1="605.60" x2="200.90" y2="607.40" stroke="#000" stroke-width="1.3"/>
<line x1="197.10" y1="605.60" x2="204.70" y2="605.60" stroke="#000" stroke-width="1.3"/>
<rect x="196.00" y="608.00" width="9.80" height="17.80" fill="#000" stroke="#000" stroke-width="1.3"/>
<line x1="212.10" y1="588.80" x2="212.10" y2="591.00" stroke="#000" stroke-width="1.3"/>
<line x1="208.30" y1="588.80" x2="215.90" y2="588.80" stroke="#000" stroke-width="1.3"/>
<rect x="207.00" y="591.60" width="10.20" height="34.20" fill="#8d8d8d" stroke="#000" stroke-width="1.3"/>
<rect x="82.00" y="497.60" width="142.30" height="128.20" fill="none" stroke="#444" stroke-width="1.7"/>
<text transform="translate(31.60,614.98) rotate(-90)" x="0" y="0" font-size="15.30" textLength="126.27" lengthAdjust="spacingAndGlyphs" font-family="&apos;Liberation Sans&apos;, sans-serif" stroke="#000" stroke-width="0.3" fill="#000">Proliferation (cpm)</text>
<text x="97.57" y="643.80" font-size="9.32" textLength="15.90" lengthAdjust="spacingAndGlyphs" font-family="&apos;Liberation Sans&apos;, sans-serif" stroke="#000" stroke-width="0.3" fill="#000">D0</text>
<text x="146.00" y="643.80" font-size="9.32" textLength="15.53" lengthAdjust="spacingAndGlyphs" font-family="&apos;Liberation Sans&apos;, sans-serif" stroke="#000" stroke-width="0.3" fill="#000">D3</text>
<text x="192.86" y="643.80" font-size="9.45" textLength="16.16" lengthAdjust="spacingAndGlyphs" font-family="&apos;Liberation Sans&apos;, sans-serif" stroke="#000" stroke-width="0.3" fill="#000">D5</text>
<rect x="144.40" y="509.10" width="6.20" height="5.60" fill="#fff" stroke="#000" stroke-width="1.2"/>
<rect x="144.40" y="522.10" width="6.20" height="5.60" fill="#000" stroke="#000" stroke-width="1.2"/>
<rect x="144.40" y="535.00" width="6.20" height="5.60" fill="#8d8d8d" stroke="#000" stroke-width="1.2"/>
<text x="155.24" y="514.30" font-size="10.04" textLength="19.03" lengthAdjust="spacingAndGlyphs" font-family="&apos;Liberation Sans&apos;, sans-serif" stroke="#000" stroke-width="0.3" fill="#000">WT</text>
<text x="154.18" y="527.00" font-size="9.10" textLength="30.96" lengthAdjust="spacingAndGlyphs" font-family="&apos;Liberation Sans&apos;, sans-serif" stroke="#000" stroke-width="0.3" fill="#000">IFN-/-</text>
<text x="154.14" y="540.20" font-size="9.24" textLength="59.49" lengthAdjust="spacingAndGlyphs" font-family="&apos;Liberation Sans&apos;, sans-serif" stroke="#000" stroke-width="0.3" fill="#000">IFN-/-+IFN</text>
<line x1="346.20" y1="495.80" x2="350.20" y2="495.80" stroke="#d8d8d8" stroke-width="1"/>
<line x1="346.20" y1="516.75" x2="350.20" y2="516.75" stroke="#d8d8d8" stroke-width="1"/>
<line x1="346.20" y1="537.70" x2="350.20" y2="537.70" stroke="#d8d8d8" stroke-width="1"/>
<line x1="346.20" y1="558.65" x2="350.20" y2="558.65" stroke="#d8d8d8" stroke-width="1"/>
<line x1="346.20" y1="579.60" x2="350.20" y2="579.60" stroke="#d8d8d8" stroke-width="1"/>
<line x1="346.20" y1="600.55" x2="350.20" y2="600.55" stroke="#d8d8d8" stroke-width="1"/>
<line x1="346.20" y1="621.50" x2="350.20" y2="621.50" stroke="#d8d8d8" stroke-width="1"/>
<line x1="405.70" y1="621.50" x2="405.70" y2="625.50" stroke="#d8d8d8" stroke-width="1"/>
<line x1="461.20" y1="621.50" x2="461.20" y2="625.50" stroke="#d8d8d8" stroke-width="1"/>
<rect x="350.20" y="495.80" width="166.50" height="125.70" fill="none" stroke="#444" stroke-width="1.7"/>
<text x="325.15" y="499.00" font-size="10.18" textLength="14.47" lengthAdjust="spacingAndGlyphs" font-family="&apos;Liberation Sans&apos;, sans-serif" stroke="#000" stroke-width="0.3" fill="#000">60</text>
<text x="325.28" y="519.90" font-size="10.18" textLength="14.33" lengthAdjust="spacingAndGlyphs" font-family="&apos;Liberation Sans&apos;, sans-serif" stroke="#000" stroke-width="0.3" fill="#000">50</text>
<text x="325.51" y="540.80" font-size="10.18" textLength="14.09" lengthAdjust="spacingAndGlyphs" font-family="&apos;Liberation Sans&apos;, sans-serif" stroke="#000" stroke-width="0.3" fill="#000">40</text>
<text x="325.32" y="561.70" font-size="10.18" textLength="14.29" lengthAdjust="spacingAndGlyphs" font-family="&apos;Liberation Sans&apos;, sans-serif" stroke="#000" stroke-width="0.3" fill="#000">30</text>
<text x="325.15" y="582.60" font-size="10.18" textLength="14.47" lengthAdjust="spacingAndGlyphs" font-family="&apos;Liberation Sans&apos;, sans-serif" stroke="#000" stroke-width="0.3" fill="#000">20</text>
<text x="324.80" y="603.50" font-size="10.18" textLength="14.83" lengthAdjust="spacingAndGlyphs" font-family="&apos;Liberation Sans&apos;, sans-serif" stroke="#000" stroke-width="0.3" fill="#000">10</text>
<text x="332.16" y="624.40" font-size="10.18" textLength="7.45" lengthAdjust="spacingAndGlyphs" font-family="&apos;Liberation Sans&apos;, sans-serif" stroke="#000" stroke-width="0.3" fill="#000">0</text>
<text x="370.80" y="640.60" font-size="10.47" textLength="15.30" lengthAdjust="spacingAndGlyphs" font-family="&apos;Liberation Sans&apos;, sans-serif" stroke="#000" stroke-width="0.3" fill="#000">50</text>
<text x="426.34" y="640.60" font-size="10.47" textLength="15.26" lengthAdjust="spacingAndGlyphs" font-family="&apos;Liberation Sans&apos;, sans-serif" stroke="#000" stroke-width="0.3" fill="#000">30</text>
<text x="481.28" y="640.60" font-size="10.47" textLength="15.83" lengthAdjust="spacingAndGlyphs" font-family="&apos;Liberation Sans&apos;, sans-serif" stroke="#000" stroke-width="0.3" fill="#000">10</text>
<text x="414.99" y="655.20" font-size="14.21" textLength="59.76" lengthAdjust="spacingAndGlyphs" font-family="&apos;Liberation Sans&apos;, sans-serif" stroke="#000" stroke-width="0.3" fill="#000">E/T ratio</text>
<text transform="translate(319.80,607.04) rotate(-90)" x="0" y="0" font-size="15.50" textLength="102.85" lengthAdjust="spacingAndGlyphs" font-family="&apos;Liberation Sans&apos;, sans-serif" stroke="#000" stroke-width="0.3" fill="#000">% specific lysis</text>
<polyline points="378.20,523.50 401.90,539.00" fill="none" stroke="#111" stroke-width="1.3" stroke-linejoin="round"/>
<polyline points="405.40,541.30 433.70,559.00 489.40,581.50" fill="none" stroke="#111" stroke-width="1.3" stroke-linejoin="round"/>
<polyline points="378.20,576.80 433.70,582.00 489.40,595.40" fill="none" stroke="#111" stroke-width="1.3" stroke-linejoin="round"/>
<polyline points="378.20,532.70 433.70,555.60 489.40,571.50" fill="none" stroke="#111" stroke-width="1.3" stroke-linejoin="round"/>
<line x1="378.20" y1="513.80" x2="378.20" y2="523.50" stroke="#000" stroke-width="1.4"/>
<line x1="374.20" y1="513.80" x2="382.20" y2="513.80" stroke="#000" stroke-width="1.4"/>
<line x1="378.20" y1="532.70" x2="378.20" y2="540.40" stroke="#000" stroke-width="1.4"/>
<line x1="374.20" y1="540.40" x2="382.20" y2="540.40" stroke="#000" stroke-width="1.4"/>
<line x1="378.20" y1="523.50" x2="378.20" y2="532.70" stroke="#000" stroke-width="1.4"/>
<line x1="433.70" y1="549.00" x2="433.70" y2="559.00" stroke="#000" stroke-width="1.4"/>
<line x1="429.70" y1="549.00" x2="437.70" y2="549.00" stroke="#000" stroke-width="1.4"/>
<line x1="433.70" y1="551.80" x2="433.70" y2="567.70" stroke="#000" stroke-width="1.4"/>
<line x1="429.70" y1="551.80" x2="437.70" y2="551.80" stroke="#000" stroke-width="1.4"/>
<line x1="429.70" y1="567.70" x2="437.70" y2="567.70" stroke="#000" stroke-width="1.4"/>
<line x1="489.40" y1="566.80" x2="489.40" y2="581.50" stroke="#000" stroke-width="1.4"/>
<line x1="485.40" y1="566.80" x2="493.40" y2="566.80" stroke="#000" stroke-width="1.4"/>
<line x1="489.40" y1="581.50" x2="489.40" y2="589.60" stroke="#000" stroke-width="1.4"/>
<line x1="485.40" y1="589.60" x2="493.40" y2="589.60" stroke="#000" stroke-width="1.4"/>
<line x1="378.20" y1="568.40" x2="378.20" y2="585.00" stroke="#000" stroke-width="1.4"/>
<line x1="374.20" y1="568.40" x2="382.20" y2="568.40" stroke="#000" stroke-width="1.4"/>
<line x1="374.20" y1="585.00" x2="382.20" y2="585.00" stroke="#000" stroke-width="1.4"/>
<line x1="433.70" y1="573.70" x2="433.70" y2="590.50" stroke="#000" stroke-width="1.4"/>
<line x1="429.70" y1="573.70" x2="437.70" y2="573.70" stroke="#000" stroke-width="1.4"/>
<line x1="429.70" y1="590.50" x2="437.70" y2="590.50" stroke="#000" stroke-width="1.4"/>
<line x1="489.40" y1="589.80" x2="489.40" y2="601.60" stroke="#000" stroke-width="1.4"/>
<line x1="485.40" y1="589.80" x2="493.40" y2="589.80" stroke="#000" stroke-width="1.4"/>
<line x1="485.40" y1="601.60" x2="493.40" y2="601.60" stroke="#000" stroke-width="1.4"/>
<polygon points="374.42,523.50 378.20,519.72 381.98,523.50 378.20,527.28" fill="#000"/>
<polygon points="429.92,559.00 433.70,555.22 437.48,559.00 433.70,562.78" fill="#000"/>
<polygon points="485.62,581.50 489.40,577.72 493.18,581.50 489.40,585.28" fill="#000"/>
<rect x="375.30" y="573.90" width="5.80" height="5.80" fill="#000"/>
<rect x="430.80" y="579.10" width="5.80" height="5.80" fill="#000"/>
<rect x="486.50" y="592.50" width="5.80" height="5.80" fill="#000"/>
<polygon points="374.52,535.81 381.88,535.81 378.20,529.60" fill="#000"/>
<polygon points="430.02,558.71 437.38,558.71 433.70,552.50" fill="#000"/>
<polygon points="485.72,574.61 493.08,574.61 489.40,568.39" fill="#000"/>
<line x1="412.50" y1="506.90" x2="440.60" y2="506.90" stroke="#000" stroke-width="1.2"/>
<polygon points="422.44,506.90 426.40,502.94 430.36,506.90 426.40,510.86" fill="#000"/>
<line x1="412.50" y1="519.80" x2="440.60" y2="519.80" stroke="#000" stroke-width="1.2"/>
<rect x="423.21" y="516.61" width="6.38" height="6.38" fill="#000"/>
<line x1="412.50" y1="533.20" x2="440.60" y2="533.20" stroke="#000" stroke-width="1.2"/>
<polygon points="422.88,536.17 429.92,536.17 426.40,530.23" fill="#000"/>
<text x="445.43" y="509.40" font-size="11.05" textLength="20.97" lengthAdjust="spacingAndGlyphs" font-family="&apos;Liberation Sans&apos;, sans-serif" stroke="#000" stroke-width="0.3" fill="#000">WT</text>
<text x="444.25" y="522.20" font-size="10.07" textLength="34.45" lengthAdjust="spacingAndGlyphs" font-family="&apos;Liberation Sans&apos;, sans-serif" stroke="#000" stroke-width="0.3" fill="#000">IFN-/-</text>
<text x="444.26" y="535.40" font-size="10.34" textLength="63.64" lengthAdjust="spacingAndGlyphs" font-family="&apos;Liberation Sans&apos;, sans-serif" stroke="#000" stroke-width="0.3" fill="#000">IFN-/-+IFN</text>
</svg>
</body></html>
